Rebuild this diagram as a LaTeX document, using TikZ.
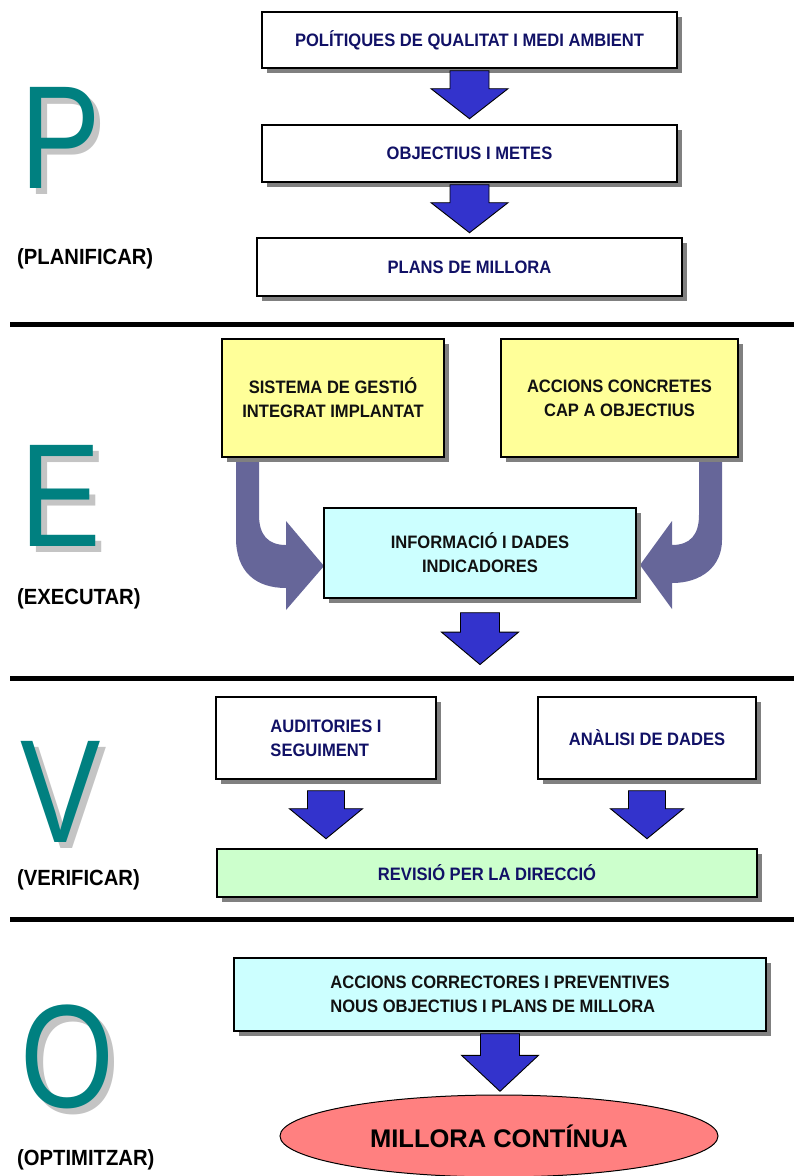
\documentclass[tikz,border=0pt]{standalone}
\usepackage{fontspec}
\setmainfont[FakeStretch=0.92]{Liberation Sans}
\newfontfamily\bigletterfont[FakeStretch=0.82]{Liberation Sans}
\newfontfamily\wideboldfont{Liberation Sans}
\usetikzlibrary{shapes.geometric,shadows}
\definecolor{PhaseTeal}{HTML}{008080}
\definecolor{LetterGray}{HTML}{C4C4C4}
\definecolor{ShadowGray}{HTML}{808080}
\definecolor{BoxNavy}{HTML}{111166}
\definecolor{BoxInk}{HTML}{111111}
\definecolor{SoftYellow}{HTML}{FFFF99}
\definecolor{SoftCyan}{HTML}{CCFFFF}
\definecolor{SoftGreen}{HTML}{CCFFCC}
\definecolor{ArrowBlue}{HTML}{3333CC}
\definecolor{BendPurple}{HTML}{666699}
\definecolor{GoalRed}{HTML}{FF8080}

\tikzset{
  blockdown/.pic={
    \draw[blockarrow] (-19.5,0) -- (19.5,0) -- (19.5,18) -- (38.5,18) -- (0,48)
      -- (-38.5,18) -- (-19.5,18) -- cycle;
  }
}

\begin{document}
\begin{tikzpicture}[
  x=1pt,y=-1pt,
  boxshadow/.style={drop shadow={shadow xshift=4.5pt,shadow yshift=-4.5pt,fill=ShadowGray,opacity=1}},
  box/.style={draw=black,line width=1.4pt,fill=white,inner sep=0pt,align=center,boxshadow,
    text=BoxNavy,font=\fontsize{18}{24}\selectfont\bfseries},
  yellowbox/.style={box,fill=SoftYellow,text=BoxInk},
  cyanbox/.style={box,fill=SoftCyan,text=BoxInk},
  greenbox/.style={box,fill=SoftGreen},
  blockarrow/.style={fill=ArrowBlue,draw=black,line width=0.9pt},
  bendarrow/.style={fill=BendPurple},
  rule/.style={line width=5pt,draw=black},
  letter/.style={anchor=base west,inner sep=0pt,text=PhaseTeal,font=\fontsize{147}{150}\bigletterfont},
  lettershadow/.style={letter,text=LetterGray},
  phaselabel/.style={anchor=base west,inner sep=0pt,text=black,font=\fontsize{22}{24}\selectfont\bfseries},
  goal/.style={ellipse,draw=black,line width=1pt,fill=GoalRed,inner sep=0pt,
    font=\fontsize{25.5}{28}\wideboldfont\bfseries}
]
\useasboundingbox (0,0) rectangle (794,1176);

% phase letters and names
\foreach \ltr/\base in {P/188,E/546,V/842,O/1107}{
  \node[lettershadow] (shadow-\ltr) at (26,\base+6) {\ltr};
  \node[letter] (letter-\ltr) at (20,\base) {\ltr};
}
\foreach \phase/\base in {PLANIFICAR/264,EXECUTAR/604,VERIFICAR/885,OPTIMITZAR/1165}
  \node[phaselabel] (label-\phase) at (17,\base) {(\phase)};

% separators
\foreach \y in {324.5,678.5,919.5}
  \draw[rule] (10,\y) -- (794,\y);

% bent arrows into the information box (drawn first, boxes cover their tails)
\fill[bendarrow] (236,450) -- (236,538) .. controls (236,572) and (256,588) .. (286,588)
  -- (286,610) -- (324,566) -- (286,521) -- (286,545)
  .. controls (268,545) and (259,535) .. (259,515) -- (259,450) -- cycle;
\fill[bendarrow] (722,450) -- (722,540) .. controls (722,566) and (702,583) .. (672,583)
  -- (672,609) -- (640,565) -- (672,521) -- (672,545)
  .. controls (690,545) and (699,535) .. (699,515) -- (699,450) -- cycle;

% PLANIFICAR
\node[box,minimum width=415pt,minimum height=56pt] (politiques) at (469.5,40) {POLÍTIQUES DE QUALITAT I MEDI AMBIENT};
\node[box,minimum width=415pt,minimum height=57pt] (objectius) at (469.5,153.5) {OBJECTIUS I METES};
\node[box,minimum width=425pt,minimum height=58pt] (plans) at (469.5,267) {PLANS DE MILLORA};
\pic at ([yshift=-2pt]politiques.south) {blockdown};
\pic at ([yshift=-2pt]objectius.south) {blockdown};

% EXECUTAR
\node[yellowbox,minimum width=222pt,minimum height=118pt] (sistema) at (333,398) {SISTEMA DE GESTIÓ\\INTEGRAT IMPLANTAT};
\node[yellowbox,minimum width=237pt,minimum height=118pt] (accions) at (619.5,398) {ACCIONS CONCRETES\\CAP A OBJECTIUS};
\node[cyanbox,minimum width=312pt,minimum height=90pt] (informacio) at (480,553) {INFORMACIÓ I DADES\\INDICADORES};
\pic[yscale=1.08] at ([yshift=-14pt]informacio.south) {blockdown};

% VERIFICAR
\node[box,minimum width=220pt,minimum height=82pt,align=left] (auditories) at (326,738) {AUDITORIES I\\SEGUIMENT};
\node[box,minimum width=218pt,minimum height=82pt] (analisi) at (647,738) {ANÀLISI DE DADES};
\node[greenbox,minimum width=540pt,minimum height=48pt] (revisio) at (487,873) {REVISIÓ PER LA DIRECCIÓ};
\pic[xscale=0.95] at ([yshift=-11pt]auditories.south) {blockdown};
\pic[xscale=0.95] at ([yshift=-11pt]analisi.south) {blockdown};

% OPTIMITZAR
\node[cyanbox,minimum width=532pt,minimum height=73pt,align=left] (correctores) at (500,994.5) {ACCIONS CORRECTORES I PREVENTIVES\\NOUS OBJECTIUS I PLANS DE MILLORA};
\node[goal,minimum width=438pt,minimum height=82pt] (millora) at (499,1136) {MILLORA CONTÍNUA};
\pic[yscale=1.2] at ([yshift=-2pt]correctores.south) {blockdown};
\end{tikzpicture}
\end{document}
